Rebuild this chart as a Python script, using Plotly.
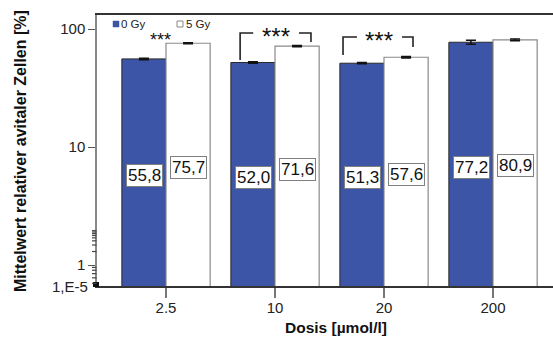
import math
import plotly.graph_objects as go

# Dose groups and mean values (%) for 0 Gy and 5 Gy
doses = ["2.5", "10", "20", "200"]
gy0_values = [55.8, 52.0, 51.3, 77.2]
gy5_values = [75.7, 71.6, 57.6, 80.9]
gy0_errors = [0.8, 0.7, 0.6, 3.0]
gy5_errors = [0.8, 0.9, 0.9, 1.2]
series_names = ["0 Gy", "5 Gy"]
y_tick_values = [1, 10, 100]
y_tick_labels = ["1", "10", "100"]
y_minor_values = [0.7, 0.8, 0.9, 2, 3, 4, 5, 6, 7, 8, 9,
                  20, 30, 40, 50, 60, 70, 80, 90]
axis_floor_label = "1,E-5"
significance = ["***", "***", "***", ""]

FONT = "Liberation Sans, Arial, sans-serif"
BLUE = "#3d55a6"

W, H = 553, 344
ML, MR, MT, MB = 97, 0, 15, 58
PW, PH = W - ML - MR, H - MT - MB

# log axis: 100 sits 14 px below the top, ~118 px per decade
decade_px = 118.0
y_top = 2 + 14 / decade_px
y_bot = y_top - PH / decade_px


def fmt(v):
    return f"{v:.1f}".replace(".", ",")


def py(pix):
    """pixel row -> paper y"""
    return (MT + PH - pix) / PH


def px(pix):
    """pixel column -> paper x"""
    return (pix - ML) / PW


fig = go.Figure()
fig.add_trace(go.Bar(
    x=doses, y=gy0_values, name=series_names[0],
    marker=dict(color=BLUE, line=dict(color="#2a2a2a", width=1)),
    error_y=dict(type="data", array=gy0_errors, color="#111", thickness=1.5, width=5),
))
fig.add_trace(go.Bar(
    x=doses, y=gy5_values, name=series_names[1],
    marker=dict(color="white", line=dict(color="#8a8a8a", width=1.2)),
    error_y=dict(type="data", array=gy5_errors, color="#111", thickness=1.5, width=5),
))

annotations = []
# value boxes inside the bars
for vals, shift in ((gy0_values, -22), (gy5_values, 22)):
    for i, v in enumerate(vals):
        annotations.append(dict(
            x=i, y=(math.log10(v) + y_bot) / 2 - 3 / decade_px,
            xref="x", yref="y", xshift=shift, text=fmt(v), showarrow=False,
            font=dict(family=FONT, size=17, color="#111"),
            bgcolor="white", bordercolor="#808080", borderwidth=1, borderpad=1,
        ))

# significance stars
star_specs = [(-0.055, 37, 18), (0.01, 32, 24), (-0.046, 36, 24), (0, 0, 0)]
for i, (s, (dx, yy, fs)) in enumerate(zip(significance, star_specs)):
    if not s:
        continue
    annotations.append(dict(
        x=i + dx, y=py(yy + fs * 0.18), xref="x", yref="paper", text=s, showarrow=False,
        font=dict(family=FONT, size=fs, color="#111"), yanchor="middle",
    ))

# legend
annotations += [
    dict(x=px(119), y=py(24), xref="paper", yref="paper", text=series_names[0],
         showarrow=False, xanchor="left", yanchor="middle",
         font=dict(family=FONT, size=11.5, color="#222")),
    dict(x=px(184), y=py(24), xref="paper", yref="paper", text=series_names[1],
         showarrow=False, xanchor="left", yanchor="middle",
         font=dict(family=FONT, size=11.5, color="#222")),
    # axis titles
    dict(x=px(20), y=py(151), xref="paper", yref="paper", textangle=-90,
         text="<b>Mittelwert relativer avitaler Zellen [%]</b>", showarrow=False,
         xanchor="center", yanchor="middle",
         font=dict(family=FONT, size=16, color="#111")),
    dict(x=px(336), y=py(327), xref="paper", yref="paper",
         text="<b>Dosis [µmol/l]</b>", showarrow=False,
         xanchor="center", yanchor="middle",
         font=dict(family=FONT, size=15.5, color="#111")),
    # floor label of the broken axis
    dict(x=0, y=0, xref="paper", yref="paper", xanchor="right", yanchor="middle",
         xshift=-7, text=axis_floor_label, showarrow=False,
         font=dict(family=FONT, size=15, color="#222")),
]

line = dict(color="#222", width=1.6)
shapes = [
    # legend swatches
    dict(type="rect", xref="paper", yref="paper", x0=px(113), x1=px(119),
         y0=py(27), y1=py(21), fillcolor=BLUE, line=dict(color=BLUE, width=0.5)),
    dict(type="rect", xref="paper", yref="paper", x0=px(177), x1=px(183),
         y0=py(27), y1=py(21), fillcolor="white", line=dict(color="#888", width=1)),
    # axis break marker
    dict(type="rect", xref="paper", yref="paper", x0=px(93), x1=px(99),
         y0=py(287), y1=py(282), fillcolor="#111", line=dict(width=0)),
    # bracket over 10
    dict(type="path", xref="x", yref="paper", line=line,
         path=f"M {1-0.32},{py(60)} L {1-0.32},{py(33)} L {1-0.20},{py(33)}"),
    dict(type="path", xref="x", yref="paper", line=line,
         path=f"M {1+0.22},{py(33)} L {1+0.33},{py(33)} L {1+0.33},{py(42)}"),
    # bracket over 20
    dict(type="path", xref="x", yref="paper", line=line,
         path=f"M {2-0.376},{py(55)} L {2-0.376},{py(37)} L {2-0.248},{py(37)}"),
    dict(type="path", xref="x", yref="paper", line=line,
         path=f"M {2+0.165},{py(37)} L {2+0.266},{py(37)} L {2+0.266},{py(47)}"),
]
# short intermediate ticks on the log axis (shape y on a log axis is log10)
for v in y_minor_values:
    shapes.append(dict(
        type="line", xref="paper", xsizemode="pixel", xanchor=0, x0=-5, x1=-0.5,
        yref="y", y0=math.log10(v), y1=math.log10(v),
        line=dict(color="#444", width=1.2),
    ))

fig.update_layout(
    width=W, height=H,
    margin=dict(l=ML, r=MR, t=MT, b=MB),
    paper_bgcolor="white", plot_bgcolor="white",
    barmode="group", bargap=0.19, bargroupgap=0,
    showlegend=False,
    annotations=annotations, shapes=shapes,
    font=dict(family=FONT, color="#222"),
)
fig.update_xaxes(
    type="category", range=[(ML - 166) / 109, (ML + PW - 166) / 109],
    showline=True, linecolor="#333", linewidth=1.5, mirror=True,
    ticks="outside", ticklen=10, tickcolor="#777", tickwidth=1.5,
    ticklabelstandoff=-3,
    tickfont=dict(family=FONT, size=15, color="#222"),
    showgrid=False, zeroline=False,
)
fig.update_yaxes(
    type="log", range=[y_bot, y_top],
    tickmode="array", tickvals=y_tick_values, ticktext=y_tick_labels,
    showline=True, linecolor="#888", linewidth=1.5,
    ticks="outside", ticklen=7, tickcolor="#555", tickwidth=1.2,
    tickfont=dict(family=FONT, size=15, color="#222"),
    showgrid=False, zeroline=False,
)

fig.write_html("out.html")
